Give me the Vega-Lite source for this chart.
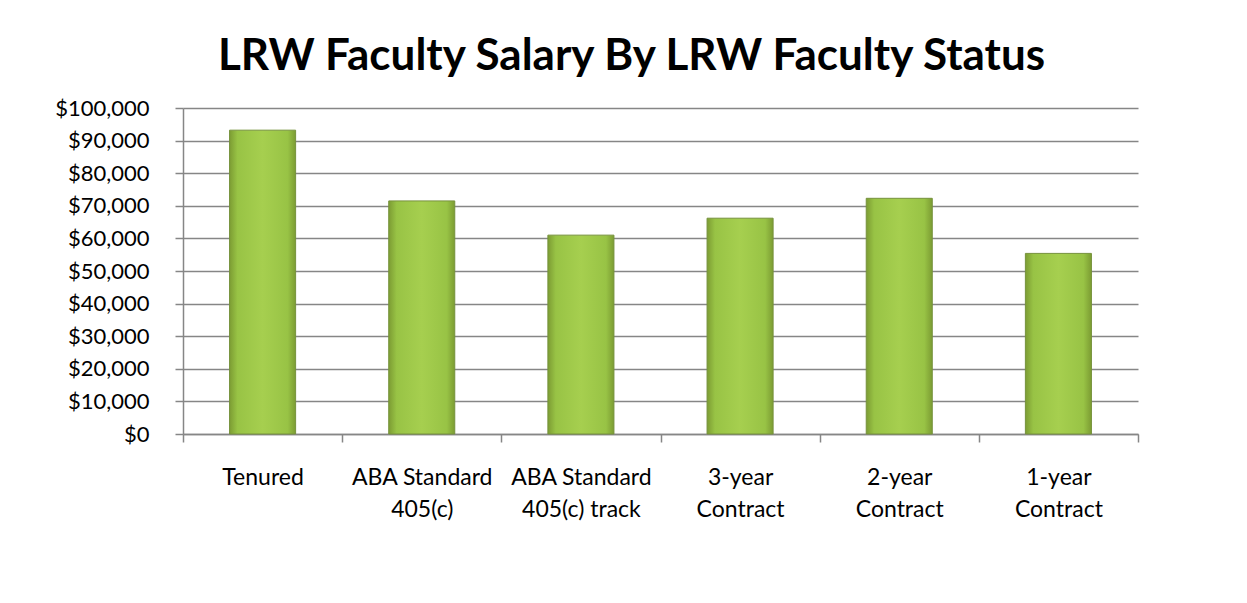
{
  "$schema": "https://vega.github.io/schema/vega-lite/v6.json",
  "autosize": "none",
  "width": 955,
  "height": 326,
  "padding": {"left": 183, "top": 108, "right": 109, "bottom": 169},
  "background": "white",
  "title": {
    "text": "LRW Faculty Salary By LRW Faculty Status",
    "font": "Lato",
    "fontSize": 44,
    "fontWeight": "bold",
    "color": "black",
    "anchor": "middle",
    "dx": -29,
    "offset": 18
  },
  "data": {
    "values": [
      {"status": "Tenured", "salary": 93200},
      {"status": "ABA Standard|405(c)", "salary": 71500},
      {"status": "ABA Standard|405(c) track", "salary": 61000},
      {"status": "3-year|Contract", "salary": 66200},
      {"status": "2-year|Contract", "salary": 72300},
      {"status": "1-year|Contract", "salary": 55400}
    ]
  },
  "mark": {
    "type": "bar",
    "width": {"band": 0.415},
    "stroke": "#76923c",
    "strokeWidth": 1,
    "color": {
      "gradient": "linear",
      "x1": 0, "x2": 1, "y1": 0, "y2": 0,
      "stops": [
        {"offset": 0, "color": "#7c9c33"},
        {"offset": 0.12, "color": "#98c345"},
        {"offset": 0.5, "color": "#a6cf4f"},
        {"offset": 0.88, "color": "#98c345"},
        {"offset": 1, "color": "#7c9c33"}
      ]
    }
  },
  "encoding": {
    "x": {
      "field": "status",
      "type": "nominal",
      "sort": null,
      "scale": {"paddingInner": 0, "paddingOuter": 0},
      "axis": {
        "title": null,
        "labelAngle": 0,
        "labelExpr": "split(datum.label, '|')",
        "labelFont": "Lato",
        "labelFontSize": 23,
        "labelColor": "black",
        "labelLineHeight": 32,
        "labelBaseline": "top",
        "labelPadding": 24,
        "tickBand": "extent",
        "tickSize": 8,
        "tickColor": "#868686",
        "domainColor": "#868686",
        "domainWidth": 1.5,
        "tickWidth": 1.5,
        "labelLimit": 0
      }
    },
    "y": {
      "field": "salary",
      "type": "quantitative",
      "scale": {"domain": [0, 100000], "nice": false},
      "axis": {
        "title": null,
        "values": [0, 10000, 20000, 30000, 40000, 50000, 60000, 70000, 80000, 90000, 100000],
        "format": "$,.0f",
        "labelFont": "Lato",
        "labelFontSize": 22,
        "labelColor": "black",
        "labelPadding": 26,
        "tickSize": 8,
        "tickColor": "#868686",
        "tickWidth": 1.5,
        "domainColor": "#868686",
        "domainWidth": 1.5,
        "grid": true,
        "gridColor": "#868686",
        "gridWidth": 1.5
      }
    }
  },
  "config": {"view": {"stroke": null}}
}
